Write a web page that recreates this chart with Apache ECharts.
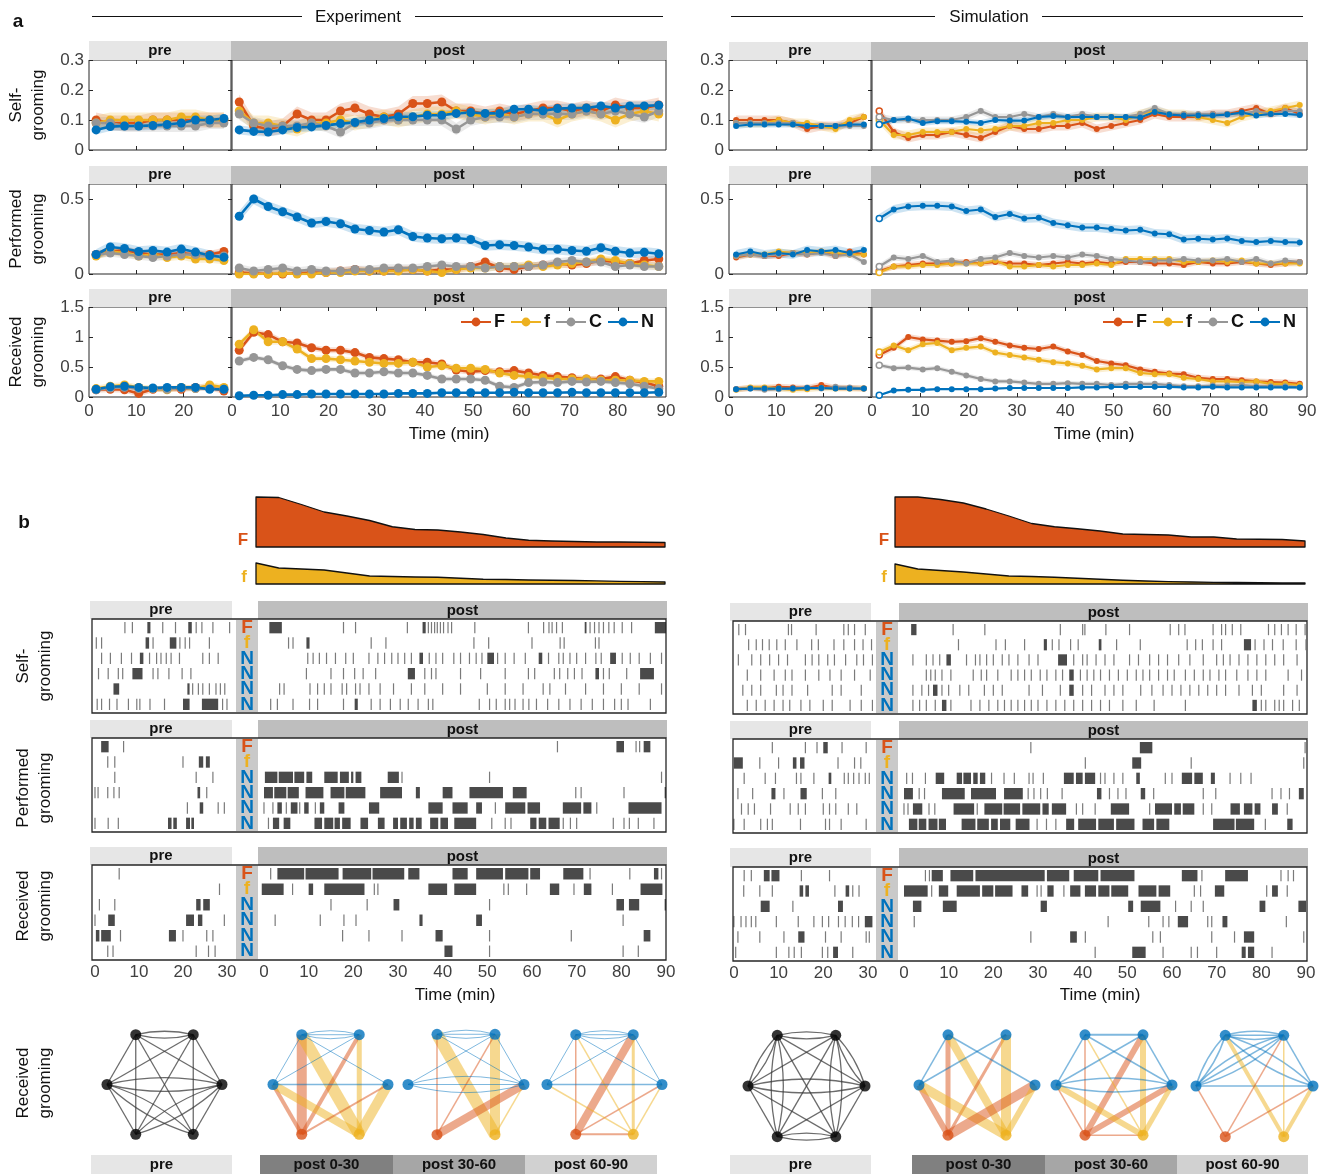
<!DOCTYPE html>
<html>
<head>
<meta charset="utf-8">
<script src="https://cdn.jsdelivr.net/npm/echarts@6/dist/echarts.min.js"></script>
<style>
html,body{margin:0;padding:0;background:#fff;}
#fig{width:1331px;height:1174px;}
</style>
</head>
<body>
<div id="fig"></div>
<script>
// ---------- time bases ----------
const T_PRE = [1.5, 4.5, 7.5, 10.5, 13.5, 16.5, 19.5, 22.5, 25.5, 28.5];
const T_POST = [1.5, 4.5, 7.5, 10.5, 13.5, 16.5, 19.5, 22.5, 25.5, 28.5, 31.5, 34.5, 37.5, 40.5, 43.5,
  46.5, 49.5, 52.5, 55.5, 58.5, 61.5, 64.5, 67.5, 70.5, 73.5, 76.5, 79.5, 82.5, 85.5, 88.5];
const GROUPS = ['F', 'f', 'C', 'N'];

// ---------- experiment: mean rates ----------
const EXP_SELF_PRE = {
  F: [0.10, 0.09, 0.09, 0.09, 0.10, 0.10, 0.10, 0.10, 0.10, 0.10],
  f: [0.09, 0.10, 0.10, 0.10, 0.10, 0.10, 0.11, 0.11, 0.10, 0.10],
  C: [0.09, 0.09, 0.08, 0.08, 0.08, 0.08, 0.08, 0.08, 0.09, 0.09],
  N: [0.067, 0.078, 0.08, 0.08, 0.082, 0.085, 0.09, 0.10, 0.10, 0.105]
};
const EXP_SELF_POST = {
  F: [0.16, 0.08, 0.07, 0.08, 0.12, 0.10, 0.10, 0.13, 0.14, 0.12, 0.11, 0.12, 0.155, 0.155, 0.16, 0.13, 0.13, 0.12, 0.13, 0.12, 0.13, 0.14, 0.14, 0.13, 0.14, 0.13, 0.15, 0.14, 0.14, 0.15],
  f: [0.13, 0.09, 0.09, 0.08, 0.07, 0.09, 0.09, 0.10, 0.09, 0.10, 0.11, 0.10, 0.11, 0.12, 0.12, 0.13, 0.12, 0.11, 0.12, 0.11, 0.12, 0.12, 0.10, 0.12, 0.13, 0.12, 0.10, 0.12, 0.13, 0.12],
  C: [0.12, 0.09, 0.08, 0.08, 0.08, 0.09, 0.08, 0.06, 0.09, 0.09, 0.10, 0.10, 0.10, 0.10, 0.10, 0.07, 0.10, 0.11, 0.11, 0.11, 0.12, 0.12, 0.12, 0.12, 0.13, 0.12, 0.13, 0.12, 0.11, 0.13],
  N: [0.067, 0.062, 0.060, 0.067, 0.075, 0.077, 0.082, 0.088, 0.092, 0.10, 0.105, 0.111, 0.111, 0.116, 0.116, 0.122, 0.125, 0.122, 0.122, 0.136, 0.136, 0.131, 0.138, 0.14, 0.14, 0.147, 0.14, 0.147, 0.147, 0.149]
};
const EXP_PERF_PRE = {
  F: [0.13, 0.15, 0.16, 0.14, 0.13, 0.13, 0.14, 0.13, 0.13, 0.15],
  f: [0.12, 0.15, 0.14, 0.12, 0.13, 0.11, 0.12, 0.10, 0.10, 0.09],
  C: [0.13, 0.14, 0.13, 0.12, 0.11, 0.12, 0.13, 0.13, 0.12, 0.12],
  N: [0.13, 0.18, 0.17, 0.15, 0.157, 0.146, 0.166, 0.146, 0.123, 0.112]
};
const EXP_PERF_POST = {
  F: [0.01, 0.005, 0, 0, 0.005, 0.01, 0.01, 0.02, 0.03, 0.02, 0.02, 0.03, 0.03, 0.02, 0.03, 0.03, 0.05, 0.08, 0.04, 0.03, 0.05, 0.06, 0.07, 0.06, 0.07, 0.09, 0.08, 0.07, 0.09, 0.10],
  f: [0, 0, 0, 0.005, 0, 0, 0.01, 0.01, 0.02, 0.02, 0.02, 0.02, 0.03, 0.02, 0.01, 0.03, 0.04, 0.04, 0.05, 0.05, 0.06, 0.05, 0.06, 0.07, 0.08, 0.10, 0.09, 0.07, 0.06, 0.05],
  C: [0.04, 0.02, 0.03, 0.04, 0.02, 0.03, 0.02, 0.02, 0.03, 0.03, 0.04, 0.04, 0.04, 0.05, 0.06, 0.05, 0.05, 0.04, 0.05, 0.05, 0.05, 0.06, 0.08, 0.09, 0.08, 0.08, 0.05, 0.06, 0.05, 0.05],
  N: [0.385, 0.50, 0.45, 0.415, 0.38, 0.34, 0.35, 0.335, 0.30, 0.29, 0.28, 0.295, 0.25, 0.24, 0.235, 0.24, 0.23, 0.19, 0.195, 0.19, 0.18, 0.165, 0.165, 0.157, 0.152, 0.175, 0.152, 0.14, 0.145, 0.135]
};
const EXP_RECV_PRE = {
  F: [0.12, 0.13, 0.12, 0.06, 0.13, 0.14, 0.13, 0.16, 0.16, 0.10],
  f: [0.14, 0.18, 0.20, 0.16, 0.14, 0.12, 0.16, 0.14, 0.20, 0.16],
  C: [0.12, 0.15, 0.16, 0.14, 0.14, 0.13, 0.15, 0.14, 0.14, 0.13],
  N: [0.13, 0.17, 0.18, 0.16, 0.15, 0.16, 0.16, 0.16, 0.13, 0.13]
};
const EXP_RECV_POST = {
  F: [0.78, 1.08, 1.04, 0.92, 0.90, 0.82, 0.78, 0.78, 0.74, 0.66, 0.64, 0.62, 0.58, 0.58, 0.55, 0.45, 0.42, 0.44, 0.42, 0.44, 0.40, 0.36, 0.34, 0.32, 0.30, 0.30, 0.34, 0.28, 0.24, 0.18],
  f: [0.88, 1.12, 0.92, 0.92, 0.80, 0.64, 0.64, 0.62, 0.60, 0.58, 0.56, 0.56, 0.58, 0.50, 0.52, 0.48, 0.48, 0.46, 0.40, 0.36, 0.34, 0.32, 0.30, 0.30, 0.30, 0.28, 0.28, 0.28, 0.26, 0.26],
  C: [0.60, 0.66, 0.62, 0.52, 0.46, 0.44, 0.46, 0.46, 0.40, 0.40, 0.42, 0.40, 0.40, 0.36, 0.30, 0.30, 0.30, 0.28, 0.18, 0.16, 0.24, 0.25, 0.24, 0.26, 0.25, 0.26, 0.24, 0.22, 0.18, 0.14],
  N: [0.02, 0.03, 0.03, 0.04, 0.04, 0.05, 0.05, 0.05, 0.05, 0.05, 0.05, 0.06, 0.06, 0.06, 0.07, 0.07, 0.07, 0.07, 0.07, 0.08, 0.07, 0.07, 0.07, 0.08, 0.07, 0.07, 0.07, 0.07, 0.07, 0.08]
};

// ---------- simulation: mean rates ----------
const SIM_SELF_PRE = {
  F: [0.10, 0.10, 0.10, 0.10, 0.09, 0.07, 0.08, 0.08, 0.09, 0.11],
  f: [0.09, 0.09, 0.09, 0.10, 0.09, 0.09, 0.08, 0.07, 0.10, 0.11],
  C: [0.09, 0.09, 0.09, 0.09, 0.09, 0.08, 0.08, 0.08, 0.08, 0.08],
  N: [0.08, 0.085, 0.085, 0.085, 0.085, 0.08, 0.08, 0.08, 0.085, 0.085]
};
const SIM_SELF_POST = {
  F: [0.13, 0.06, 0.04, 0.05, 0.05, 0.06, 0.05, 0.04, 0.06, 0.08, 0.07, 0.07, 0.08, 0.08, 0.09, 0.07, 0.08, 0.09, 0.10, 0.12, 0.11, 0.11, 0.11, 0.12, 0.12, 0.13, 0.14, 0.12, 0.14, 0.12],
  f: [0.10, 0.05, 0.05, 0.06, 0.06, 0.06, 0.07, 0.065, 0.07, 0.08, 0.08, 0.09, 0.09, 0.10, 0.10, 0.11, 0.11, 0.10, 0.12, 0.13, 0.12, 0.12, 0.11, 0.10, 0.09, 0.11, 0.12, 0.13, 0.14, 0.15],
  C: [0.11, 0.10, 0.10, 0.10, 0.10, 0.10, 0.11, 0.13, 0.11, 0.11, 0.12, 0.11, 0.12, 0.11, 0.12, 0.11, 0.11, 0.11, 0.12, 0.14, 0.12, 0.12, 0.12, 0.12, 0.12, 0.12, 0.13, 0.12, 0.13, 0.13],
  N: [0.085, 0.10, 0.105, 0.09, 0.096, 0.096, 0.094, 0.09, 0.10, 0.098, 0.098, 0.11, 0.113, 0.11, 0.11, 0.11, 0.11, 0.11, 0.108, 0.127, 0.118, 0.115, 0.115, 0.115, 0.118, 0.125, 0.115, 0.12, 0.12, 0.117]
};
const SIM_PERF_PRE = {
  F: [0.11, 0.13, 0.12, 0.12, 0.14, 0.13, 0.15, 0.12, 0.15, 0.13],
  f: [0.12, 0.13, 0.13, 0.15, 0.14, 0.14, 0.15, 0.14, 0.13, 0.13],
  C: [0.12, 0.13, 0.12, 0.13, 0.14, 0.13, 0.14, 0.12, 0.13, 0.08],
  N: [0.13, 0.15, 0.13, 0.14, 0.13, 0.16, 0.15, 0.16, 0.14, 0.16]
};
const SIM_PERF_POST = {
  F: [0.02, 0.05, 0.06, 0.07, 0.07, 0.07, 0.08, 0.07, 0.08, 0.07, 0.07, 0.06, 0.07, 0.08, 0.07, 0.08, 0.07, 0.08, 0.08, 0.07, 0.07, 0.06, 0.08, 0.07, 0.07, 0.08, 0.07, 0.06, 0.07, 0.08],
  f: [0.01, 0.05, 0.05, 0.06, 0.06, 0.07, 0.07, 0.07, 0.09, 0.05, 0.05, 0.06, 0.05, 0.06, 0.06, 0.07, 0.06, 0.10, 0.10, 0.10, 0.10, 0.08, 0.08, 0.09, 0.08, 0.09, 0.07, 0.07, 0.07, 0.07],
  C: [0.05, 0.11, 0.10, 0.12, 0.08, 0.09, 0.07, 0.10, 0.11, 0.14, 0.12, 0.11, 0.12, 0.11, 0.13, 0.12, 0.10, 0.09, 0.08, 0.09, 0.09, 0.10, 0.09, 0.09, 0.10, 0.08, 0.10, 0.07, 0.09, 0.08],
  N: [0.37, 0.43, 0.45, 0.455, 0.455, 0.45, 0.42, 0.43, 0.38, 0.40, 0.37, 0.375, 0.34, 0.325, 0.31, 0.31, 0.30, 0.29, 0.295, 0.27, 0.265, 0.23, 0.235, 0.23, 0.237, 0.22, 0.213, 0.22, 0.213, 0.21]
};
const SIM_RECV_PRE = {
  F: [0.13, 0.15, 0.15, 0.17, 0.16, 0.15, 0.20, 0.15, 0.15, 0.14],
  f: [0.12, 0.16, 0.16, 0.14, 0.12, 0.13, 0.15, 0.14, 0.14, 0.14],
  C: [0.13, 0.14, 0.12, 0.13, 0.14, 0.16, 0.14, 0.17, 0.16, 0.14],
  N: [0.13, 0.14, 0.14, 0.14, 0.14, 0.15, 0.15, 0.14, 0.14, 0.14]
};
const SIM_RECV_POST = {
  F: [0.70, 0.82, 1.00, 0.96, 0.94, 0.92, 0.93, 0.98, 0.92, 0.86, 0.82, 0.80, 0.84, 0.76, 0.70, 0.60, 0.56, 0.53, 0.46, 0.42, 0.39, 0.38, 0.32, 0.30, 0.30, 0.28, 0.26, 0.25, 0.24, 0.22],
  f: [0.75, 0.86, 0.78, 0.88, 0.90, 0.78, 0.82, 0.84, 0.74, 0.70, 0.66, 0.62, 0.58, 0.56, 0.52, 0.46, 0.48, 0.48, 0.40, 0.38, 0.38, 0.32, 0.30, 0.26, 0.26, 0.25, 0.26, 0.22, 0.22, 0.20],
  C: [0.53, 0.48, 0.49, 0.46, 0.48, 0.42, 0.36, 0.30, 0.26, 0.26, 0.24, 0.22, 0.22, 0.23, 0.22, 0.22, 0.20, 0.22, 0.22, 0.22, 0.20, 0.18, 0.18, 0.19, 0.19, 0.20, 0.18, 0.18, 0.18, 0.16],
  N: [0.03, 0.11, 0.12, 0.12, 0.13, 0.13, 0.13, 0.13, 0.14, 0.15, 0.15, 0.15, 0.15, 0.15, 0.16, 0.16, 0.17, 0.17, 0.17, 0.17, 0.17, 0.16, 0.16, 0.17, 0.16, 0.16, 0.16, 0.16, 0.16, 0.16]
};

// half-width of the shaded error band, per group [F, f, C, N]
const EXP_BAND = { self: [0.025, 0.025, 0.02, 0.015], perf: [0.025, 0.025, 0.025, 0.035], recv: [0.05, 0.05, 0.04, 0.015] };
const SIM_BAND = { self: [0.015, 0.015, 0.012, 0.01], perf: [0.02, 0.02, 0.02, 0.03], recv: [0.05, 0.05, 0.04, 0.015] };

// ---------- grooming received by the focal animals over time ----------
const AREA_T = [0, 5, 10, 15, 20, 25, 30, 35, 40, 45, 50, 55, 60, 65, 70, 75, 80, 85, 90];
const EXP_AREA_F = [1.0, 0.99, 0.85, 0.70, 0.62, 0.53, 0.405, 0.35, 0.34, 0.30, 0.25, 0.18, 0.135, 0.12, 0.11, 0.10, 0.10, 0.095, 0.09];
const EXP_AREA_f = [0.42, 0.32, 0.30, 0.28, 0.22, 0.16, 0.15, 0.14, 0.135, 0.115, 0.095, 0.09, 0.08, 0.075, 0.07, 0.062, 0.054, 0.047, 0.04];
const SIM_AREA_F = [1.0, 1.0, 0.95, 0.88, 0.76, 0.62, 0.47, 0.405, 0.365, 0.32, 0.26, 0.25, 0.24, 0.20, 0.20, 0.16, 0.155, 0.15, 0.12];
const SIM_AREA_f = [0.40, 0.30, 0.27, 0.24, 0.20, 0.16, 0.15, 0.135, 0.115, 0.095, 0.075, 0.06, 0.047, 0.04, 0.034, 0.03, 0.025, 0.02, 0.02];

// ---------- event rasters (minutes; single number = brief bout, pair = [start, end]) ----------
const RASTER_ROWS = ['F', 'f', 'N1', 'N2', 'N3', 'N4'];
const EXP_SELF_PRE_EV = [
  [6.8, 8.5, [11.9, 12.6], 15.4, 18.3, [21.2, 22], 23, 24.3, 26.8, 30.6],
  [0.3, 1.5, [11.5, 12.3], 13.2, [17, 18.5], 19.3, 20.5, 21.5, 26],
  [1.5, 3.5, 6, 8.3, [10.2, 11], 12.4, 14, 15, 16.2, 17.3, 19.2, 24.5, 26, 28],
  [0.8, 3, 5.3, 6.3, [8.5, 10.8], 13.2, 14.3, 16.8, 19.8, 21.8],
  [[4.2, 5.5], [21, 21.5], 22.2, 23.5, 24.5, 26, 27.5, 28.5, 29.5],
  [0.5, 1.5, 3.3, 5, 7.6, 9.5, 10.2, 12.5, 15.8, [20, 21.5], [24.3, 28], 29, 30]
];
const EXP_SELF_POST_EV = [
  [[1.2, 4], 17.8, 20.5, 32.1, [35.5, 36.2], 36.8, 37.5, 38.2, 38.8, 39.5, 40.2, 41.2, 42, 47.2, 59.2, 62.6, 63.8, 64.5, 65.5, 66.8, [71.8, 72.2], 73, 74, 75, 76, 77.2, 78.4, 80.2, 82.3, [87.5, 90]],
  [5.5, 6.5, [9.5, 10.2], 24, 27.3, 47, 50.3, 60, 66.3, 67.2, 74.2, 75],
  [9.8, 11, 12.4, 14, 16, 18.3, 20, 23.5, 25.5, 27, 28.6, 30, 31.5, 33, [34.8, 35.6], 37, 38.5, 40, 42.5, 44, 46, 47.5, 48.8, [50, 51.5], 52.3, 54, 56, 58.5, [61.5, 62.3], 63.7, 66, 67, 68.5, 70, 72, 74.3, 75.5, [77.5, 78.8], 80.2, 82, 84, 86.5, 89],
  [9.5, 15, 17.8, 20.3, 22.2, 25, [32.2, 33.8], 36, 37.5, 38.5, 44, 48.5, 54, 59.2, 60.6, 65, 66.2, 68, 69.5, 71.2, [74.2, 75], 76, 77.3, 81.2, [84.2, 87.3]],
  [3.5, 4.5, 10.3, 12, 13.5, 15, 17.5, 18.5, 20.5, 21.5, 23.5, 26, 29, 33, 36, 40, 44, 50, 54, 58, 62.5, 64, 67.5, 72, 76, 80, 84, 89],
  [1.5, 3, 6.5, 10.2, 12, 17.8, [20.3, 21], 24, 26, 28.3, 30.5, 32.3, 34.5, 36.8, 37.8, 48.2, 50.5, 52, 54, 55, 56.2, 58, 59.3, 61, 63.5, 66, 68.5, 71, 73.5, 76, 78.5, 80, 81.5, 86.5]
];
const EXP_PERF_PRE_EV = [
  [[1.4, 3.1], 6.5],
  [2.9, 4.5, 20, [23.6, 24.6], [25.2, 26.1]],
  [4.5, 23, 26.8],
  [0, 0.7, 2.9, 4.3, 5.5, [23.3, 23.9], 25.4],
  [21, [23.8, 24.6], 28, 29.4],
  [0, 3, 5.3, [16.6, 17.4], [17.8, 18.6], [20.7, 21.6], [21.9, 22.5]]
];
const EXP_PERF_POST_EV = [
  [65.7, [78.9, 80.6], 83.3, 84.1, [85, 86.5]],
  [],
  [[0.2, 3], [3.3, 6.5], [6.8, 9], [9.5, 10.8], [13.5, 16.5], [17, 19], [19.5, 20], [20.5, 21.8], [27.7, 30.2], 30.9, 50.5, 89],
  [[0, 2], [2.3, 5], [5.3, 7.8], [9.3, 13.3], [14.9, 18], [18.3, 22.7], [26, 30.9], [34, 34.9], [40, 42.2], [46, 53.5], [55.7, 58.8], 69.8, 71, 80.6, [89.7, 90]],
  [0, 2, [3, 4], 5, [6, 7.5], 8, [9, 10], 11.5, [12.5, 13.5], [16.7, 18], [23.5, 25.8], [36.8, 40], [42.2, 45.6], [47.5, 48.8], 51.8, [54, 58.5], [59, 61.8], [66.9, 71], [71.5, 73.3], 74.5, [81.6, 89]],
  [1, [2, 3.4], [4.4, 5.9], [11.3, 13], [13.5, 15.5], [15.8, 17], [17.5, 19.4], [21.6, 23.3], [25.5, 27], [28.9, 30], [30.5, 32], [32.5, 33.5], [34, 35.3], [37.2, 39], [39.5, 41.2], [42.6, 47.5], 51, 54, 55.3, [59.6, 61], [61.5, 63.2], [63.7, 66.2], 67, 68.6, 70, 78.2, 80.6, 81.8, 83.8, 87.3]
];
const EXP_RECV_PRE_EV = [
  [5.5],
  [28.3],
  [1, 4.5, [23, 24], [24.6, 26.1]],
  [0, [3, 4.5], [20.7, 22.5], [23.4, 24.4], 29.4],
  [[0.2, 1], [1.4, 3.6], 5.8, [16.8, 18.4], 20, 25.4, 26.8],
  [2.9, 4.1, 23, 25.8, 27.3]
];
const EXP_RECV_POST_EV = [
  [1.5, [3, 9], [9.3, 16.7], [17.6, 24], [24.3, 31.4], [32.3, 34.8], [42.2, 45.6], [47.5, 53.5], [54, 59.2], [59.6, 61.8], [67, 71.5], 73, 81.9, [87.3, 88.3], 89],
  [[-0.5, 4.4], 6.4, [10, 11], [13.5, 22.5], 24.7, 25.5, [36.8, 41], [42.6, 47.5], 53.7, 54.7, 58.8, [64, 66.1], 69.4, [71.6, 73.3], 78, [84.3, 89.2]],
  [15, 23.1, [29, 30.3], 50.5, [78.9, 80.6], [81.7, 84], [89.7, 90]],
  [2.5, 12.6, 17.9, 20.6, [34.8, 35.5], [47.5, 48.8], 80.4],
  [17.6, 23.5, 30.9, [38.4, 40], 50.5, 68.8, [85, 86.5]],
  [[40.4, 42.2], 50.5, 80.4, 83.8]
];
const SIM_SELF_PRE_EV = [
  [1.1, 2.6, 12.2, 12.9, 18.4, 24.6, 25.6, 27, 29.4],
  [3.3, 5, 6.4, 7.9, 9.6, 11.5, 14.1, 17.4, 18.9, 22.4, 24.6, 27, 28.9, 30.8],
  [1, 4, 6, 8, 10, 12, 16, 17.5, 19, 21, 22.5, 25, 27.5, 29, 31],
  [3, 6, 9, 11.5, 13, 16, 19, 21.5, 24, 27, 30.5],
  [2, 4, 6, 9.5, 11, 13, 16.5, 22, 24, 28.5],
  [3, 5, 7, 9, 11, 12.5, 15, 17, 20, 22, 26, 28.5, 31]
];
const SIM_SELF_POST_EV = [
  [[1.6, 2.8], 11, 18.1, 35, 40, 40.5, 45.2, 50.5, 59.6, 61.5, 62.9, 69.2, 71.1, 72, 73.5, 75.4, 81.6, 83, 84.5, 86, 87.8, 89.8],
  [12.2, 20.6, 22.7, 27, [31.3, 32], 33.2, 34.7, 37.3, 39, [43.6, 44.2], 47.6, 52.9, 63.4, 65.3, 66.8, 69.2, 71.1, [76.1, 77.7], 78.6, 80.6, 82.5, 84.9, 87.8, 90],
  [2, 5, 6.5, 8, [9.5, 10.5], 14, 16, 17, 18.5, 20, 22, 23.5, 25.5, 28, 30, [34.5, 36.5], 38, 40, 41, 43, 45, 47, 50.5, 52.5, 55, 57, 59, 61.5, 64, 67, 70, 71.5, 73, 75, 77, 79, 81, 83, 85, 88],
  [5, 6, 7, 8.5, 10.5, 15.5, 17.3, 18.5, 21, 24, 25.5, 27, 28.5, 30.5, 32, 34, 35.5, [37, 38], 39.5, 41, 42.5, 44, 46, 48, 50, 52, 53.5, 55, 57, 59, 60.5, 63, 65, 67, 68.5, 70.5, 72, 74.5, 77, 79, 81, 86, 89],
  [2, 4, 5.5, [6.5, 7.5], 8.5, 10, 12.5, 14.5, 18, 20, 22, 28, 31, 35, [37, 38], 40, 42, 45, 47, 49, 53, 55.5, 58, 60, 62, 64, 66, 68, 70, 72, 75, 78, 80, 85, 88],
  [2, 3.5, 5, 7, [8.5, 9.5], 10.5, 15, 17, 19, 21, 22.5, 24, 25.5, 27, 28.5, 30, 32, 34, 36, 38, 40, 42, 44, 46, 49, 52, 56, 63, [78, 79], 80, 81, 83, 84, 85, 87, 88.5]
];
const SIM_PERF_PRE_EV = [
  [8.6, 16, 18.6, [20, 21], 24.2, 29.6],
  [[0, 2], 5.8, 10, [13.2, 14], [14.8, 15.8], 23.3, 27, 28.4],
  [2.3, 7, 9.3, 14, 15, 17.9, [21.2, 21.8], 24.7, 25.6, 26.8, 28, 29.4, 30.3],
  [0.9, 4.2, [8.4, 9.3], 11.2, [14.9, 16.3], 19.8, 22.8],
  [1.7, 3.2, 4.6, 8.2, 12.6, 14.4, 16, 20, 21.4, 22.8, 25.6, 27.5],
  [0, 2.3, 6, 7.5, 8.6, 14.9, 20.5, 21.4, 24, 29.6]
];
const SIM_PERF_POST_EV = [
  [28.4, [52.8, 55.6], 89.8],
  [40.6, [51.1, 53.1], 64.3, 89.5],
  [0.6, 1.9, 4.8, [7.1, 9], [11.8, 13], [13.3, 15], [15.5, 16.5], [17, 18.2], 19.6, 22.4, 24.7, 28, 28.9, 31.2, [35.8, 38], [38.5, 40], [40.5, 42.8], 44, 45, 47, 49, [52, 52.8], 58.5, 60, [62.2, 64.5], [65, 66.9], [68.7, 69.6], 73, 75.4, 77.7],
  [[0, 2], 3.4, 4.6, [8.5, 13.6], [15, 20.6], [22.4, 26.6], 27.8, 29.1, 30.6, 32.1, 35.4, [43.2, 44.2], 46, 47.9, 49.7, [53, 54], 55.9, 67, 69.8, 82.4, 84.4, 86.3, [88.4, 89.5]],
  [0, 0.9, [2, 4.1], 5.6, 6.9, [11.1, 15.7], 16.4, [18, 22], [22.3, 26], [26.5, 30.5], [31, 32.4], [33.1, 36.3], 38.6, 40, 42.8, [46.3, 50.4], 55, [56.2, 60], [60.5, 62], [62.4, 65], 67, 68.9, [73.1, 75.2], [76.1, 78], [78.5, 79.8], [82.4, 83.7], 85.8],
  [[1.1, 3], [3.3, 5], [5.5, 7.5], [7.8, 9.4], [12.9, 16], [16.4, 19], [19.5, 21], [21.5, 23.8], [25, 28.1], 29.8, 31.9, 34, [36.3, 38.1], [39, 43], [43.5, 47], [47.5, 51.6], [53.4, 56], [56.5, 59.4], [69.2, 74], [74.3, 78.4], 80.9, [85.8, 87]]
];
const SIM_RECV_PRE_EV = [
  [2.3, 3.9, [6.7, 8], [8.4, 10.2], 15.1, 21.4],
  [2.2, 5.8, 8.6, [14.7, 15.5], [16, 16.8], 22.6, [25, 25.8], 26.6, 28],
  [[6, 8], 13.2, [23.3, 24.4]],
  [0, 1.6, 2.7, 3.9, 4.9, 9.5, 14.4, 17.9, 19.8, 21.2, 23.4, 24.9, 26.5, 27.9, [29.3, 31]],
  [0.9, 5.8, 11.2, [14.4, 15.8], 20.5, 24, 29.6, 30.3],
  [0.4, 9.5, 12.3, 13.5, 15.1, 19.8, 21, [22.2, 23.3], 26.6]
];
const SIM_RECV_POST_EV = [
  [4.8, 5.7, [6.2, 8.7], [10.4, 15.5], [16, 31.5], [32, 37], [38, 43.5], [44, 51.6], [62.2, 65.7], 66.7, [71.9, 77], 84.4, 86, 87.2],
  [[0, 5.3], 6.2, [7.8, 9.9], [11.8, 17], [17.5, 20], [20.4, 24.3], [26.3, 27.8], 29.8, 30.7, [32.1, 33.5], 35.8, [37.2, 39.5], [40.5, 43], [43.5, 46], [46.4, 50.2], [52.5, 56.5], [57, 59.6], 65, 66.4, [69.6, 71.7], 81.2, [82.4, 83.7], 85.8],
  [[2, 3.9], [8.7, 11.8], [30.6, 32], [50.2, 51.3], [53, 57.4], 60.8, 64.3, 67, [79.6, 80.9], [88.3, 90]],
  [2.3, 45.7, 54.8, 58, 59.3, [61.3, 63.6], 68, 68.9, [71.3, 72.4], 85.6],
  [28.4, [37.2, 38.7], 40.6, 55.7, 57.4, 68.9, 74, [76.1, 78.4], 89.5],
  [42.8, [51.1, 54.1], 58, 64.3, 65.7, 70, [75.6, 76.5], [77, 78.4], 82.4]
];

// ---------- received-grooming networks: [source, target, weight] ----------
const NET_NODES = ['N1', 'N2', 'N3', 'N4', 'F', 'f'];
const EXP_NET_PRE = [['N1','N2',1],['N2','N1',1],['N1','N3',1],['N1','N4',1],['N1','F',1],['N1','f',1],['N2','N3',1],['N2','N4',1],['N2','F',1],['N2','f',1],['N3','N4',1],['N4','N3',1],['N3','F',1],['N3','f',1],['f','N3',1],['N4','F',1],['F','N4',1],['N4','f',1]];
const EXP_NET_0_30 = [['N1','F',10],['N1','f',12],['N2','f',5],['N2','F',4],['N3','F',4],['N3','f',8],['N4','f',10],['N4','F',2],['N1','N2',1],['N2','N1',1],['N1','N2',1],['N1','N3',1],['N1','N4',1],['N3','N4',1.5],['N2','N3',1]];
const EXP_NET_30_60 = [['N1','f',12],['N2','f',10],['N4','F',8],['N1','F',1.5],['N2','F',1.5],['N4','f',1.5],['N1','N2',1],['N2','N1',1],['N1','N2',1],['N3','N4',1],['N4','N3',1],['N3','N4',1],['N2','N3',1],['N1','N4',1],['N2','N4',1]];
const EXP_NET_60_90 = [['N2','F',8],['F','f',2],['N1','F',1.5],['N4','F',1.5],['N1','f',1.5],['N3','f',1.5],['N4','f',1.5],['N2','f',3],['N1','N2',1],['N2','N1',1],['N1','N2',1],['N1','N3',1],['N1','N4',1],['N3','N4',1.5],['N2','N3',1],['N2','N4',1]];
const SIM_NET_PRE = [['N1','N2',1],['N2','N1',1],['N1','N3',1],['N3','N1',1],['N1','N4',1],['N1','F',1],['F','N1',1],['N1','f',1],['N2','N3',1],['N2','N4',1],['N4','N2',1],['N2','F',1],['N2','f',1],['f','N2',1],['N3','N4',1],['N4','N3',1],['N3','F',1],['N3','f',1],['N4','F',1],['N4','f',1],['F','f',1],['f','F',1]];
const SIM_NET_0_30 = [['N1','F',5],['N1','f',8],['N2','F',3],['N2','f',10],['N3','F',6],['N3','f',10],['N4','F',10],['N4','f',6],['N1','N3',1.5],['N1','N4',1.5],['N2','N3',1.5]];
const SIM_NET_30_60 = [['N2','F',6],['N4','F',6],['N1','F',1.5],['F','f',1.5],['N3','F',1.5],['N2','f',6],['N4','f',5],['N3','f',6],['N1','f',1.5],['N1','N2',2],['N1','N3',1.5],['N1','N4',1.5],['N2','N3',1.5],['N2','N4',1.5],['N3','N4',1.5],['N4','N3',1.5]];
const SIM_NET_60_90 = [['N1','N2',1.5],['N2','N1',1.5],['N1','N2',1.5],['N1','N3',1.5],['N3','N1',1.5],['N2','N3',1.5],['N3','N2',1.5],['N2','N3',1.5],['N3','N4',1.5],['N1','N4',1.5],['N4','N1',1.5],['N2','N4',1.5],['N1','f',4],['N4','f',4],['N2','F',1.5],['N4','F',1.5],['N3','F',1.5],['N2','f',1.5]];

// ================= drawing =================
const FONT = '"Liberation Sans", Arial, Helvetica, sans-serif';
const COLOR = { F: '#d95319', f: '#edb120', C: '#969696', N: '#0072bd' };
const INK = '#262626';
const TICK_TXT = '#404040';

const option = { animation: false, backgroundColor: '#ffffff', grid: [], xAxis: [], yAxis: [], series: [], legend: [], graphic: { elements: [] } };
const G = option.graphic.elements;

function addText(text, x, y, o = {}) {
  G.push({ type: 'text', x: x, y: y, rotation: o.rot || 0, z: o.z == null ? 100 : o.z, silent: true,
    style: { text: text, x: 0, y: 0, fill: o.color || '#111', font: (o.weight || 'normal') + ' ' + (o.size || 17) + 'px ' + FONT,
      textAlign: o.align || 'center', textVerticalAlign: 'middle', align: o.align || 'center', verticalAlign: 'middle', lineHeight: o.lh || undefined } });
}
function addRect(x, y, w, h, fill, o = {}) {
  G.push({ type: 'rect', silent: true, z: o.z == null ? 1 : o.z, shape: { x: x, y: y, width: w, height: h },
    style: { fill: fill, stroke: o.stroke || null, lineWidth: o.lw || 0 } });
}
function addLine(x1, y1, x2, y2, o = {}) {
  G.push({ type: 'line', silent: true, z: 100, shape: { x1: x1, y1: y1, x2: x2, y2: y2 }, style: { stroke: o.color || '#111', lineWidth: o.lw || 1 } });
}
function addGrid(x, y, w, h, show) {
  option.grid.push({ left: x, top: y, width: w, height: h, show: !!show, borderColor: INK, borderWidth: 1, backgroundColor: 'transparent' });
  return option.grid.length - 1;
}
function hiddenAxis(extra) {
  return Object.assign({ axisLine: { show: false }, axisTick: { show: false }, axisLabel: { show: false }, splitLine: { show: false } }, extra);
}

// ---------- panel a ----------
const A_COLS = {
  exp: { pre: { x: 89, w: 142 }, post: { x: 232, w: 434 }, sym: 9, lw: 2.6, legend: 460 },
  sim: { pre: { x: 729, w: 142 }, post: { x: 872, w: 435 }, sym: 6, lw: 2.2, legend: 1102 }
};
const A_ROWS = [
  { key: 'self', top: 60, h: 90, hdr: 41, ymax: 0.3, labels: [0, 0.1, 0.2, 0.3], name: 'Self-\ngrooming' },
  { key: 'perf', top: 184, h: 90, hdr: 166, ymax: 0.6, labels: [0, 0.5], name: 'Performed\ngrooming' },
  { key: 'recv', top: 307, h: 90, hdr: 289, ymax: 1.5, labels: [0, 0.5, 1, 1.5], name: 'Received\ngrooming' }
];
const A_DATA = {
  exp: { self: [EXP_SELF_PRE, EXP_SELF_POST], perf: [EXP_PERF_PRE, EXP_PERF_POST], recv: [EXP_RECV_PRE, EXP_RECV_POST], band: EXP_BAND },
  sim: { self: [SIM_SELF_PRE, SIM_SELF_POST], perf: [SIM_PERF_PRE, SIM_PERF_POST], recv: [SIM_RECV_PRE, SIM_RECV_POST], band: SIM_BAND }
};

function bandSeries(xi, yi, xs, ys, hw, color) {
  return { type: 'custom', name: 'band', xAxisIndex: xi, yAxisIndex: yi, silent: true, clip: true, z: 1,
    data: [[xs[0], ys[0]]],
    renderItem: function (params, api) {
      const pts = [];
      for (let i = 0; i < xs.length; i++) pts.push(api.coord([xs[i], ys[i] + hw]));
      for (let i = xs.length - 1; i >= 0; i--) pts.push(api.coord([xs[i], Math.max(ys[i] - hw, 0)]));
      return { type: 'polygon', shape: { points: pts }, style: { fill: color, opacity: 0.2 } };
    } };
}

['exp', 'sim'].forEach(function (ck) {
  const C = A_COLS[ck];
  A_ROWS.forEach(function (R, ri) {
    const hdrTop = (ck === 'sim' && ri === 0) ? R.hdr + 1 : R.hdr;
    addRect(C.pre.x, hdrTop, C.pre.w, R.top - hdrTop, '#e6e6e6', { z: 0 });
    addRect(C.post.x - 1, hdrTop, C.post.w + 2, R.top - hdrTop, '#bebebe', { z: 0 });
    addText('pre', C.pre.x + C.pre.w / 2, hdrTop + (R.top - hdrTop) / 2, { weight: 'bold', size: 15 });
    addText('post', C.post.x + C.post.w / 2, hdrTop + (R.top - hdrTop) / 2, { weight: 'bold', size: 15 });
    if (ck === 'exp') addText(R.name, 27, R.top + R.h / 2, { rot: Math.PI / 2, size: 17, lh: 22 });

    ['pre', 'post'].forEach(function (pk, pi) {
      const P = C[pk];
      const xmax = pk === 'pre' ? 30 : 90;
      const gi = addGrid(P.x, R.top, P.w, R.h, true);
      const showX = ri === 2;
      const tickVals = pk === 'pre' ? [10, 20] : [10, 20, 30, 40, 50, 60, 70, 80];
      const labVals = pk === 'pre' ? [0, 10, 20] : [0, 10, 20, 30, 40, 50, 60, 70, 80, 90];
      const xi = option.xAxis.length;
      option.xAxis.push({ gridIndex: gi, type: 'value', min: 0, max: xmax, position: 'bottom',
        axisLine: { show: false }, splitLine: { show: false },
        axisTick: { show: true, inside: true, length: 4, lineStyle: { color: INK }, customValues: tickVals },
        axisLabel: { show: showX, customValues: labVals, color: TICK_TXT, fontSize: 17, fontFamily: FONT, margin: 6 } });
      option.xAxis.push({ gridIndex: gi, type: 'value', min: 0, max: xmax, position: 'top',
        axisLine: { show: false }, splitLine: { show: false },
        axisTick: { show: true, inside: true, length: 4, lineStyle: { color: INK }, customValues: tickVals },
        axisLabel: { show: false } });
      const yi = option.yAxis.length;
      option.yAxis.push({ gridIndex: gi, type: 'value', min: 0, max: R.ymax, position: pk === 'pre' ? 'left' : 'right',
        axisLine: { show: false }, splitLine: { show: false },
        axisTick: { show: true, inside: true, length: 4, lineStyle: { color: INK }, customValues: R.labels },
        axisLabel: { show: pk === 'pre', customValues: R.labels, color: TICK_TXT, fontSize: 17, fontFamily: FONT, margin: 5 } });

      const d = A_DATA[ck][R.key][pi];
      const xs = pk === 'pre' ? T_PRE : T_POST;
      const bw = A_DATA[ck].band[R.key];
      GROUPS.forEach(function (g, gk) {
        option.series.push(bandSeries(xi, yi, xs, d[g], bw[gk], COLOR[g]));
      });
      GROUPS.forEach(function (g) {
        const pts = xs.map(function (x, i) {
          if (ck === 'sim' && pk === 'post' && i === 0) {
            return { value: [x, d[g][i]], itemStyle: { color: '#ffffff', borderColor: COLOR[g], borderWidth: 1.5 } };
          }
          return [x, d[g][i]];
        });
        option.series.push({ type: 'line', name: g, xAxisIndex: xi, yAxisIndex: yi, data: pts, silent: true,
          symbol: 'circle', symbolSize: C.sym, showSymbol: true, clip: true, z: 3,
          lineStyle: { width: C.lw, color: COLOR[g] }, itemStyle: { color: COLOR[g] } });
      });
    });
  });
  option.legend.push({ left: C.legend, top: 313, orient: 'horizontal', data: GROUPS, selectedMode: false, padding: 0,
    itemWidth: 30, itemHeight: 11, itemGap: 5,
    textStyle: { fontSize: 18, fontWeight: 'bold', fontFamily: FONT, color: '#111', padding: [0, 0, 0, -2] } });
});

addText('a', 18, 22, { weight: 'bold', size: 19 });
addText('Experiment', 358, 17, { size: 17 });
addLine(92, 16.5, 302, 16.5); addLine(415, 16.5, 663, 16.5);
addText('Simulation', 989, 17, { size: 17 });
addLine(731, 16.5, 935, 16.5); addLine(1042, 16.5, 1303, 16.5);
addText('Time (min)', 449, 434, { size: 17 });
addText('Time (min)', 1094, 434, { size: 17 });

// ---------- panel b: area curves ----------
function areaPanel(x, w, top, h, ymax, values, fill) {
  const gi = addGrid(x, top, w, h, false);
  const xi = option.xAxis.length, yi = option.yAxis.length;
  option.xAxis.push(hiddenAxis({ gridIndex: gi, type: 'value', min: 0, max: 90 }));
  option.yAxis.push(hiddenAxis({ gridIndex: gi, type: 'value', min: 0, max: ymax }));
  option.series.push({ type: 'custom', xAxisIndex: xi, yAxisIndex: yi, silent: true, z: 2,
    data: [[AREA_T[0], values[0]]],
    renderItem: function (params, api) {
      const pts = [api.coord([AREA_T[0], 0])];
      AREA_T.forEach(function (t, i) { pts.push(api.coord([t, values[i]])); });
      pts.push(api.coord([AREA_T[AREA_T.length - 1], 0]));
      return { type: 'polygon', shape: { points: pts }, style: { fill: fill, stroke: '#111', lineWidth: 1.3, lineJoin: 'round' } };
    } });
}
areaPanel(256, 409, 497, 50, 1, EXP_AREA_F, COLOR.F);
areaPanel(256, 409, 559, 25, 0.5, EXP_AREA_f, COLOR.f);
areaPanel(895, 410, 497, 50, 1, SIM_AREA_F, COLOR.F);
areaPanel(895, 410, 559, 25, 0.5, SIM_AREA_f, COLOR.f);
addText('b', 24, 523, { weight: 'bold', size: 19 });
addText('F', 243, 540, { weight: 'bold', size: 17, color: COLOR.F });
addText('f', 244, 577, { weight: 'bold', size: 17, color: COLOR.f });
addText('F', 884, 540, { weight: 'bold', size: 17, color: COLOR.F });
addText('f', 884, 577, { weight: 'bold', size: 17, color: COLOR.f });

// ---------- panel b: rasters ----------
const R_COLS = {
  exp: { pre: { x: 92, w: 144, min: -0.68, max: 32.05 }, post: { x: 258, w: 408, min: -1.34, max: 90 }, col: [236, 22],
         box: [92, 666], hdrPre: [90, 232], hdrPost: [258, 667], time: 455 },
  sim: { pre: { x: 733, w: 143, min: -0.2, max: 31.8 }, post: { x: 898, w: 408, min: -1.34, max: 90 }, col: [876, 22],
         box: [733, 1307], hdrPre: [730, 871], hdrPost: [899, 1308], time: 1100 }
};
const R_ROWS = {
  exp: [{ top: 620, h: 92, hdr: 601 }, { top: 739, h: 92, hdr: 720 }, { top: 866, h: 93, hdr: 847 }],
  sim: [{ top: 622, h: 91, hdr: 603 }, { top: 740, h: 92, hdr: 721 }, { top: 868, h: 92, hdr: 848 }]
};
const R_DATA = {
  exp: [[EXP_SELF_PRE_EV, EXP_SELF_POST_EV], [EXP_PERF_PRE_EV, EXP_PERF_POST_EV], [EXP_RECV_PRE_EV, EXP_RECV_POST_EV]],
  sim: [[SIM_SELF_PRE_EV, SIM_SELF_POST_EV], [SIM_PERF_PRE_EV, SIM_PERF_POST_EV], [SIM_RECV_PRE_EV, SIM_RECV_POST_EV]]
};
const R_NAMES = [{ t: 'Self-\ngrooming', y: 666 }, { t: 'Performed\ngrooming', y: 788 }, { t: 'Received\ngrooming', y: 906 }];

function eventsToData(rows) {
  const out = [];
  rows.forEach(function (r, ri) {
    r.forEach(function (ev) {
      if (Array.isArray(ev)) out.push([ri, ev[0], ev[1], 1]);
      else out.push([ri, ev, ev, 0]);
    });
  });
  return out;
}
function renderEvent(params, api) {
  const row = api.value(0), s = api.value(1), e = api.value(2), blk = api.value(3);
  const a = api.coord([s, row]), b = api.coord([e, row]);
  const h = api.size([0, 1])[1] * 0.74;
  if (blk) {
    return { type: 'rect', shape: { x: a[0], y: a[1] - h / 2, width: Math.max(b[0] - a[0], 1.5), height: h }, style: { fill: '#4a4a4a' } };
  }
  return { type: 'rect', shape: { x: a[0] - 0.6, y: a[1] - h / 2, width: 1.2, height: h }, style: { fill: '#7a7a7a' } };
}

['exp', 'sim'].forEach(function (ck) {
  const C = R_COLS[ck];
  R_ROWS[ck].forEach(function (R, ri) {
    addRect(C.hdrPre[0], R.hdr, C.hdrPre[1] - C.hdrPre[0], R.top - 1 - R.hdr, '#e6e6e6', { z: 0 });
    addRect(C.hdrPost[0], R.hdr, C.hdrPost[1] - C.hdrPost[0], R.top - 1 - R.hdr, '#bebebe', { z: 0 });
    addText('pre', (C.hdrPre[0] + C.hdrPre[1]) / 2, R.hdr + (R.top - 1 - R.hdr) / 2, { weight: 'bold', size: 15 });
    addText('post', (C.hdrPost[0] + C.hdrPost[1]) / 2, R.hdr + (R.top - 1 - R.hdr) / 2 + 1, { weight: 'bold', size: 15 });
    addRect(C.col[0], R.top, C.col[1], R.h, '#c9c9c9', { z: -1 });
    addRect(C.box[0], R.top - 1, C.box[1] - C.box[0], R.h + 2, 'none', { stroke: INK, lw: 1.3, z: 50 });
    if (ck === 'exp') addText(R_NAMES[ri].t, 34, R_NAMES[ri].y, { rot: Math.PI / 2, size: 17, lh: 22 });

    ['pre', 'post'].forEach(function (pk, pi) {
      const P = C[pk];
      const gi = addGrid(P.x, R.top, P.w, R.h, false);
      const showX = ri === 2;
      const xi = option.xAxis.length, yi = option.yAxis.length;
      option.xAxis.push({ gridIndex: gi, type: 'value', min: P.min, max: P.max,
        axisLine: { show: false }, axisTick: { show: false }, splitLine: { show: false },
        axisLabel: { show: showX, customValues: pk === 'pre' ? [0, 10, 20, 30] : [0, 10, 20, 30, 40, 50, 60, 70, 80, 90],
          color: TICK_TXT, fontSize: 17, fontFamily: FONT, margin: 5 } });
      option.yAxis.push({ gridIndex: gi, type: 'category', data: RASTER_ROWS, inverse: true,
        axisLine: { show: false }, axisTick: { show: false }, splitLine: { show: false },
        axisLabel: { show: pk === 'post', margin: 11, align: 'center', interval: 0,
          formatter: function (v) { return '{' + (v === 'F' ? 'F' : v === 'f' ? 'f' : 'n') + '|' + v.charAt(0) + '}'; },
          rich: { F: { color: COLOR.F, fontWeight: 'bold', fontSize: 19, fontFamily: FONT },
                  f: { color: COLOR.f, fontWeight: 'bold', fontSize: 19, fontFamily: FONT },
                  n: { color: COLOR.N, fontWeight: 'bold', fontSize: 19, fontFamily: FONT } } } });
      option.series.push({ type: 'custom', xAxisIndex: xi, yAxisIndex: yi, silent: true, clip: true, z: 2,
        dimensions: ['row', 'start', 'end', 'block'], encode: { x: [1, 2], y: 0 },
        data: eventsToData(R_DATA[ck][ri][pi]), renderItem: renderEvent });
    });
  });
  addText('Time (min)', C.time, 995, { size: 17 });
});

// ---------- panel b: networks (hexagon layout on a unit grid) ----------
function edgeColor(s, t) {
  if (s === 'F' || t === 'F') return COLOR.F;
  if (s === 'f' || t === 'f') return COLOR.f;
  return COLOR.N;
}
const HEX_ANGLE = { N1: 120, N2: 60, N3: 180, N4: 0, F: 240, f: 300 };
const HEX_Y = Math.sqrt(3) / 2;
function hexPos(id) {
  const a = HEX_ANGLE[id] * Math.PI / 180;
  return [Math.cos(a), Math.sin(a)];
}
function network(cx, cy, r, edges, pre) {
  const hh = r * HEX_Y;
  const gi = addGrid(cx - r, cy - hh, 2 * r, 2 * hh, false);
  const xi = option.xAxis.length, yi = option.yAxis.length;
  option.xAxis.push(hiddenAxis({ gridIndex: gi, type: 'value', min: -1, max: 1 }));
  option.yAxis.push(hiddenAxis({ gridIndex: gi, type: 'value', min: -HEX_Y, max: HEX_Y }));

  // parallel edges between the same pair fan out symmetrically
  const count = {}, seen = {};
  edges.forEach(function (e) { const k = [e[0], e[1]].sort().join('|'); count[k] = (count[k] || 0) + 1; });
  const styles = [];
  const data = edges.map(function (e) {
    const pair = [e[0], e[1]].sort();
    const k = pair.join('|');
    const idx = seen[k] || 0; seen[k] = idx + 1;
    const n = count[k];
    const fan = n === 1 ? [0] : n === 2 ? [0.12, -0.12] : [0, 0.14, -0.14, 0.26, -0.26];
    let c = fan[idx] || 0;
    if (e[0] !== pair[0]) c = -c;
    styles.push({ stroke: pre ? '#3a3a3a' : edgeColor(e[0], e[1]), opacity: pre ? 0.75 : 0.5, lineWidth: e[2] * (pre ? 1.3 : 1) });
    const p = hexPos(e[0]), q = hexPos(e[1]);
    return [p[0], p[1], q[0], q[1], c];
  });
  option.series.push({ type: 'custom', xAxisIndex: xi, yAxisIndex: yi, silent: true, clip: false, z: 2,
    dimensions: ['x1', 'y1', 'x2', 'y2', 'curve'], encode: { x: [0, 2], y: [1, 3] },
    data: data,
    renderItem: function (params, api) {
      const p1 = api.coord([api.value(0), api.value(1)]);
      const p2 = api.coord([api.value(2), api.value(3)]);
      const c = api.value(4);
      const st = styles[params.dataIndex];
      const style = { stroke: st.stroke, lineWidth: st.lineWidth, opacity: st.opacity, fill: null };
      if (!c) return { type: 'line', shape: { x1: p1[0], y1: p1[1], x2: p2[0], y2: p2[1] }, style: style };
      const cpx = (p1[0] + p2[0]) / 2 - (p1[1] - p2[1]) * c;
      const cpy = (p1[1] + p2[1]) / 2 - (p2[0] - p1[0]) * c;
      return { type: 'bezierCurve', shape: { x1: p1[0], y1: p1[1], x2: p2[0], y2: p2[1], cpx1: cpx, cpy1: cpy }, style: style };
    } });
  option.series.push({ type: 'scatter', xAxisIndex: xi, yAxisIndex: yi, silent: true, clip: false, z: 4,
    symbol: 'circle', symbolSize: 11,
    data: NET_NODES.map(function (id) {
      return { value: hexPos(id), itemStyle: { color: pre ? '#000000' : (id === 'F' ? COLOR.F : id === 'f' ? COLOR.f : COLOR.N) } };
    }) });
}
network(164.5, 1084.5, 57.5, EXP_NET_PRE, true);
network(330.5, 1084.5, 57.5, EXP_NET_0_30, false);
network(466, 1084.5, 58, EXP_NET_30_60, false);
network(604.5, 1084.5, 57.5, EXP_NET_60_90, false);
network(806.5, 1086, 58.5, SIM_NET_PRE, true);
network(977, 1085, 58, SIM_NET_0_30, false);
network(1114, 1085, 58, SIM_NET_30_60, false);
network(1254.5, 1086, 58.5, SIM_NET_60_90, false);
addText('Received\ngrooming', 34, 1083, { rot: Math.PI / 2, size: 17, lh: 22 });

const NET_BARS = [
  { x: 91, w: 141, c: '#e6e6e6', t: 'pre' }, { x: 260, w: 133, c: '#808080', t: 'post 0-30' },
  { x: 393, w: 132, c: '#a6a6a6', t: 'post 30-60' }, { x: 525, w: 132, c: '#d1d1d1', t: 'post 60-90' },
  { x: 730, w: 141, c: '#e6e6e6', t: 'pre' }, { x: 912, w: 133, c: '#808080', t: 'post 0-30' },
  { x: 1045, w: 132, c: '#a6a6a6', t: 'post 30-60' }, { x: 1177, w: 131, c: '#d1d1d1', t: 'post 60-90' }
];
NET_BARS.forEach(function (b) {
  addRect(b.x, 1155, b.w, 19, b.c, { z: 0 });
  addText(b.t, b.x + b.w / 2, 1165, { weight: 'bold', size: 15 });
});

const chart = echarts.init(document.getElementById('fig'), null, { renderer: 'canvas', width: 1331, height: 1174 });
chart.setOption(option);
</script>
</body>
</html>
